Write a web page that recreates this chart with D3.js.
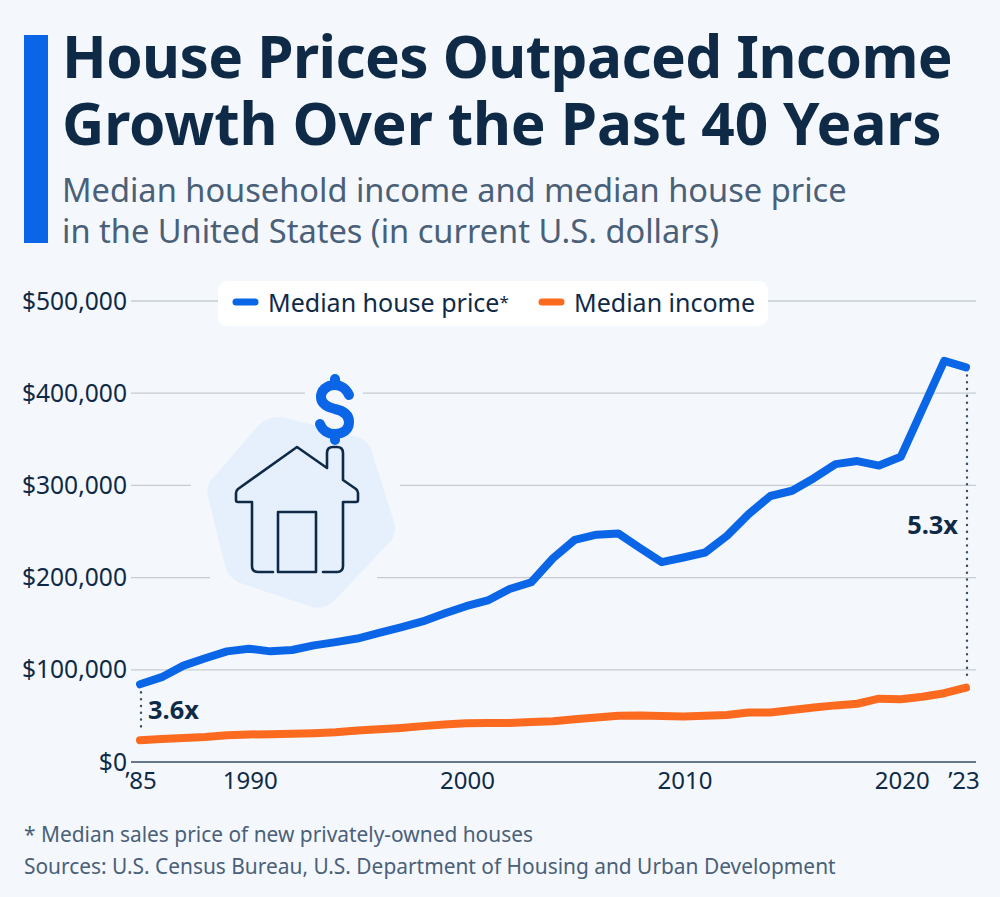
<!DOCTYPE html>
<html><head><meta charset="utf-8">
<script src="https://cdn.jsdelivr.net/npm/d3@7"></script>
<style>
html,body{margin:0;padding:0;background:#f4f8fc;overflow:hidden}
svg{display:block}
text{font-family:"Noto Sans","Open Sans",sans-serif}
</style></head><body>
<svg id="c" width="1000" height="897"></svg>
<script>
const years=d3.range(1985,2024);
const housePrice=[84300,92000,104500,112500,120000,122900,120000,121500,126500,130000,133900,140000,146000,152500,161000,169000,175200,187600,195000,221000,240900,246500,247900,232100,216700,221800,227200,245200,268900,288500,294200,307800,323100,326400,321500,331000,383000,435000,428000];
const income=[23600,24900,26100,27200,28900,29900,30100,30600,31200,32300,34100,35500,37000,38900,40700,41900,42200,42400,43300,44300,46300,48200,50200,50300,49800,49300,50100,51000,53600,53700,56500,59000,61400,63200,68700,68000,70800,74600,80600];
const yTicks=[0,100000,200000,300000,400000,500000];
const xTicks=[1990,2000,2010,2020];
const seriesNames=["Median house price","Median income"];
const titleLines=["House Prices Outpaced Income","Growth Over the Past 40 Years"];
const subtitleLines=["Median household income and median house price","in the United States (in current U.S. dollars)"];
const footnotes=["* Median sales price of new privately-owned houses","Sources: U.S. Census Bureau, U.S. Department of Housing and Urban Development"];

const BLUE="#0a66e6",ORANGE="#fb6a1e",NAVY="#0f2a47",SLATE="#4a6078",BG="#f4f8fc";
const svg=d3.select("#c");
const x=d3.scaleLinear().domain([1985,2023]).range([140,966]);
const y=d3.scaleLinear().domain([0,500000]).range([762,301]);

// header
svg.append("rect").attr("x",24).attr("y",35).attr("width",24).attr("height",208).attr("fill",BLUE);
svg.selectAll(".t").data(titleLines).join("text").attr("x",62).attr("y",(d,i)=>78+i*67)
  .attr("font-size",58.5).attr("font-weight",700).attr("fill",NAVY)
  .attr("letter-spacing",(d,i)=>i?-0.14:-0.6).text(d=>d);
svg.selectAll(".s").data(subtitleLines).join("text").attr("x",62).attr("y",(d,i)=>202+i*40.5)
  .attr("font-size",32.6).attr("fill",SLATE).text(d=>d);

// grid
svg.append("g").selectAll("line").data(yTicks.filter(d=>d>0)).join("line")
  .attr("x1",131).attr("x2",976).attr("y1",d=>y(d)).attr("y2",d=>y(d))
  .attr("stroke","#c5ccd3").attr("stroke-width",1.3);
svg.append("line").attr("x1",131).attr("x2",976).attr("y1",y(0)).attr("y2",y(0)).attr("stroke","#66788a").attr("stroke-width",2);

// y labels
svg.selectAll(".yl").data(yTicks).join("text").attr("x",127).attr("y",d=>y(d)+8.5)
  .attr("text-anchor","end").attr("font-size",24.6).attr("fill",NAVY).text(d=>d3.format("$,")(d));
// x labels
const xLab=[[1985,"’85",141],[2023,"’23",964]];
svg.selectAll(".xl").data(xTicks).join("text").attr("x",d=>x(d)+1.5).attr("y",789)
  .attr("text-anchor","middle").attr("font-size",24).attr("fill",NAVY).text(d=>d);
svg.selectAll(".xe").data(xLab).join("text").attr("x",d=>d[2]).attr("y",789)
  .attr("text-anchor","middle").attr("font-size",24).attr("fill",NAVY).text(d=>d[1]);

// illustration
const ill=svg.append("g");
[[400000,305,363],[300000,191,400],[200000,210,377]].forEach(g=>{
  ill.append("rect").attr("x",g[1]).attr("y",y(g[0])-2).attr("width",g[2]-g[1]).attr("height",4).attr("fill",BG);
});
ill.append("path").attr("d","M264 421 Q276 414 290 419 L358 437 Q369 441 372 452 L394 522 Q398 535 388 544 L335 600 Q325 610 312 607 L240 583 Q228 578 225 566 L208 497 Q205 485 214 477 L256 428 Q259 424 264 421Z").attr("fill","#e6f0fc");
const houseStroke=p=>p.attr("fill","none").attr("stroke",NAVY).attr("stroke-width",2.6).attr("stroke-linejoin","round").attr("stroke-linecap","round");
ill.append("path").attr("d","M273 572 L258 572 Q252 572 252 566 L252 502 L238 502 Q236 502 236 500 L236 493 Q236 491 238 489 L297 447 L327 468 L327 453 Q327 447 333 447 L337 447 Q343 447 343 453 L343 480 L356 489 Q358 491 358 493 L358 500 Q358 502 356 502 L343 502 L343 566 Q343 572 337 572 L323 572").call(houseStroke);
ill.append("rect").attr("x",278).attr("y",512).attr("width",38).attr("height",60).call(houseStroke);
// dollar symbol of the illustration
ill.append("path").attr("d","M349 395 C346 388 340 385 335 385 C326 385 321 391 321 397 C321 404 327 407 335 409 C344 411 349 415 349 422 C349 429 344 434 335 434 C328 434 322 430 320 424 M335 379 L335 385 M335 434 L335 440")
  .attr("fill","none").attr("stroke",BLUE).attr("stroke-width",10).attr("stroke-linecap","round");

// dotted connectors
const dots=[[1985,housePrice[0],income[0]],[2023,housePrice[38],income[38]]];
svg.selectAll(".d").data(dots).join("line").attr("x1",d=>x(d[0])+1).attr("x2",d=>x(d[0])+1)
  .attr("y1",d=>y(d[1])+8).attr("y2",d=>y(d[2])-8)
  .attr("stroke","#3c4f63").attr("stroke-width",2.4).attr("stroke-linecap","round").attr("stroke-dasharray","0.1 6.7");

// lines
const line=d3.line().x((d,i)=>x(years[i])).y(d=>y(d));
[[income,ORANGE],[housePrice,BLUE]].forEach(([v,c])=>{
  svg.append("path").datum(v).attr("d",line).attr("fill","none").attr("stroke",c)
    .attr("stroke-width",8).attr("stroke-linecap","round").attr("stroke-linejoin","round");
});

// multiplier labels
svg.append("text").attr("x",148).attr("y",719).attr("font-size",25.4).attr("font-weight",700).attr("fill",NAVY).text("3.6x");
svg.append("text").attr("x",958).attr("y",534).attr("text-anchor","end").attr("font-size",25.4).attr("font-weight",700).attr("fill",NAVY).text("5.3x");

// legend
svg.append("rect").attr("x",218).attr("y",281).attr("width",550).attr("height",45).attr("rx",9).attr("fill","#ffffff");
const lg=[[233,268,BLUE],[539,574,ORANGE]];
lg.forEach((l,i)=>{
  svg.append("line").attr("x1",l[0]+3).attr("x2",l[0]+22).attr("y1",302).attr("y2",302).attr("stroke",l[2]).attr("stroke-width",7).attr("stroke-linecap","round");
  const t=svg.append("text").attr("x",l[1]).attr("y",312).attr("font-size",25).attr("fill",NAVY).text(seriesNames[i]);
  if(i===0) t.append("tspan").attr("font-size",17).attr("dy",-4).text("*");
});

// footer
svg.selectAll(".f").data(footnotes).join("text").attr("x",24).attr("y",(d,i)=>842+i*32)
  .attr("font-size",20.9).attr("fill",SLATE).text(d=>d);
</script></body></html>
